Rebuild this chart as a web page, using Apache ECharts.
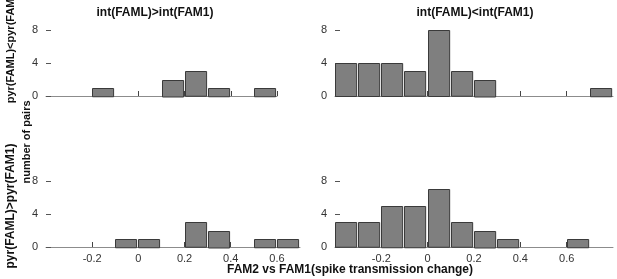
<!DOCTYPE html>
<html>
<head>
<meta charset="utf-8">
<script src="https://cdn.jsdelivr.net/npm/echarts@6/dist/echarts.min.js"></script>
<style>
  html, body { margin: 0; padding: 0; background: #ffffff; }
  #chart { width: 617px; height: 279px; }
</style>
</head>
<body>
<div id="chart"></div>
<script>
// bin starts (bin width 0.1) and counts for each panel
const binWidth = 0.1;
const topLeftBins = [-0.2, 0.1, 0.2, 0.3, 0.5];
const topLeftCounts = [1, 2, 3, 1, 1];
const topRightBins = [-0.4, -0.3, -0.2, -0.1, 0, 0.1, 0.2, 0.7];
const topRightCounts = [4, 4, 4, 3, 8, 3, 2, 1];
const bottomLeftBins = [-0.1, 0, 0.2, 0.3, 0.5, 0.6];
const bottomLeftCounts = [1, 1, 3, 2, 1, 1];
const bottomRightBins = [-0.4, -0.3, -0.2, -0.1, 0, 0.1, 0.2, 0.3, 0.6];
const bottomRightCounts = [3, 3, 5, 5, 7, 3, 2, 1, 1];

const xTicks = [-0.2, 0, 0.2, 0.4, 0.6];
const yTicks = [0, 4, 8];

const colTitles = ["int(FAML)>int(FAM1)", "int(FAML)<int(FAM1)"];
const rowTitles = ["pyr(FAML)<pyr(FAM1)", "pyr(FAML)>pyr(FAM1)"];
const yName = "number of pairs";
const xName = "FAM2 vs FAM1(spike transmission change)";

const font = "'Liberation Sans', Arial, sans-serif";
const chart = echarts.init(document.getElementById("chart"), null, {renderer: "canvas"});

// one entry per panel, bars come from the bin arrays above
const panels = [
  {left: 46, top: 30, width: 231, min: -0.4, max: 0.6, labels: false, bins: topLeftBins, counts: topLeftCounts},
  {left: 335, top: 30, width: 278, min: -0.4, max: 0.8, labels: false, bins: topRightBins, counts: topRightCounts},
  {left: 46, top: 181, width: 254, min: -0.4, max: 0.7, labels: true, bins: bottomLeftBins, counts: bottomLeftCounts},
  {left: 335, top: 181, width: 278, min: -0.4, max: 0.8, labels: true, bins: bottomRightBins, counts: bottomRightCounts},
];

const renderBar = (params, api) => {
  const start = api.value(0);
  const count = api.value(1);
  const p0 = api.coord([start, count]);
  const p1 = api.coord([start + binWidth, 0]);
  return {
    type: "rect",
    shape: {x: Math.round(p0[0]) + 0.5, y: Math.round(p0[1]) + 0.5, width: p1[0] - p0[0] - 2, height: p1[1] - p0[1]},
    style: {fill: "#7f7f7f", stroke: "#3a3a3a", lineWidth: 1},
  };
};

const option = {
  animation: false,
  backgroundColor: "#ffffff",
  grid: panels.map(p => ({left: p.left, top: p.top, width: p.width, height: 66})),
  xAxis: panels.map((p, i) => ({
    type: "value",
    gridIndex: i,
    min: p.min,
    max: p.max,
    interval: 0.2,
    splitLine: {show: false},
    axisLine: {show: true, onZero: false, lineStyle: {color: "#8c8c8c", width: 1}},
    axisTick: {show: true, inside: true, length: 5, customValues: xTicks, lineStyle: {color: "#444"}},
    axisLabel: {
      show: p.labels,
      customValues: xTicks,
      margin: 6,
      fontSize: 11,
      fontFamily: font,
      color: "#333",
    },
  })),
  yAxis: panels.map((p, i) => ({
    type: "value",
    gridIndex: i,
    min: 0,
    max: 8,
    interval: 4,
    splitLine: {show: false},
    axisLine: {show: false, onZero: false},
    axisTick: {show: true, inside: true, length: 5, customValues: yTicks, lineStyle: {color: "#555"}},
    axisLabel: {margin: 8, fontSize: 11, fontFamily: font, color: "#333", customValues: yTicks},
  })),
  series: panels.map((p, i) => ({
    type: "custom",
    xAxisIndex: i,
    yAxisIndex: i,
    renderItem: renderBar,
    clip: false,
    z: 1,
    data: p.bins.map((b, j) => [b, p.counts[j]]),
  })),
  graphic: [
    {type: "text", x: 155, y: 13, style: {text: colTitles[0], font: "bold 12px " + font, fill: "#111", align: "center", verticalAlign: "middle"}},
    {type: "text", x: 475, y: 13, style: {text: colTitles[1], font: "bold 12px " + font, fill: "#111", align: "center", verticalAlign: "middle"}},
    {type: "text", x: 11, y: 46, rotation: Math.PI / 2, style: {text: rowTitles[0], font: "bold 11px " + font, fill: "#111", align: "center", verticalAlign: "middle"}},
    {type: "text", x: 11, y: 206, rotation: Math.PI / 2, style: {text: rowTitles[1], font: "bold 12px " + font, fill: "#111", align: "center", verticalAlign: "middle"}},
    {type: "text", x: 27, y: 142, rotation: Math.PI / 2, style: {text: yName, font: "bold 11px " + font, fill: "#111", align: "center", verticalAlign: "middle"}},
    {type: "text", x: 350, y: 270, style: {text: xName, font: "bold 12px " + font, fill: "#111", align: "center", verticalAlign: "middle"}},
  ],
};

chart.setOption(option);
</script>
</body>
</html>
